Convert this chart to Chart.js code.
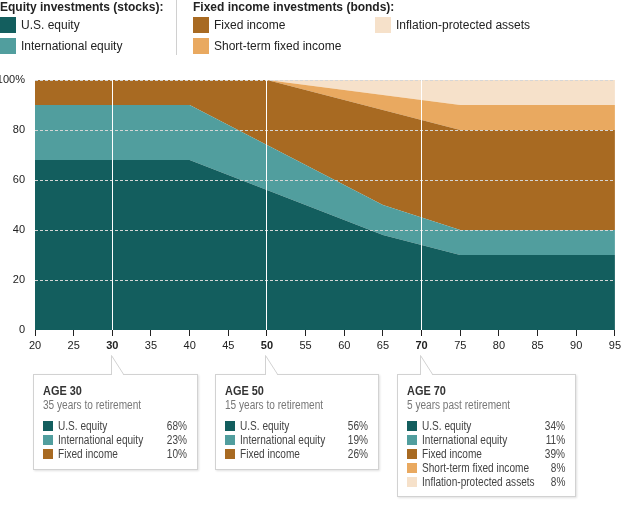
<!DOCTYPE html>
<html>
<head>
<meta charset="utf-8">
<script src="https://cdn.jsdelivr.net/npm/chart.js@4.4.1/dist/chart.umd.min.js"></script>
<style>
  html, body { margin: 0; padding: 0; background: #fff; }
  body { width: 624px; height: 505px; position: relative; overflow: hidden;
         font-family: "Liberation Sans", Arial, Helvetica, sans-serif; color: #222; }
  #chart { position: absolute; left: 0; top: 0; }
  .lg-title { position: absolute; top: 0; font-size: 12px; font-weight: bold; line-height: 14px; white-space: nowrap; }
  .lg-item { position: absolute; font-size: 12px; line-height: 16px; white-space: nowrap; }
  .lg-item i { position: absolute; left: 0; top: 0; width: 16px; height: 16px; }
  .lg-item span { position: absolute; left: 21px; top: 0; }
  .sep { position: absolute; left: 176px; top: 0; width: 1px; height: 55px; background: #d0d0d0; }
  .box { position: absolute; top: 374px; background: #fff; border: 1px solid #d2d2d2;
         box-shadow: 1px 1px 2px rgba(0,0,0,0.12); box-sizing: border-box; }
  .box svg { position: absolute; top: -20px; }
  .box .cz { display: inline-block; position: absolute; transform: scaleX(0.84); transform-origin: 0 0; white-space: nowrap; }
  .box h4 { left: 9px; top: 9px; margin: 0; font-size: 13px; line-height: 14px; font-weight: bold; color: #333; }
  .box .sub { left: 9px; top: 23px; font-size: 12px; line-height: 14px; color: #777; }
  .box .row { position: absolute; left: 9px; right: 10px; height: 14px; font-size: 12px; line-height: 14px; color: #444; white-space: nowrap; }
  .box .row i { position: absolute; left: 0; top: 2px; width: 10px; height: 10px; }
  .box .row .lab { left: 15px; top: 0; }
  .box .row .pct { right: 0; top: 0; transform-origin: 100% 0; }
</style>
</head>
<body>
<canvas id="chart" width="624" height="505"></canvas>

<div class="lg-title" style="left:0">Equity investments (stocks):</div>
<div class="lg-title" style="left:193px">Fixed income investments (bonds):</div>
<div class="sep"></div>
<div id="legend"></div>
<div id="boxes"></div>

<script>
// Age along the x axis
const ages = [20, 25, 30, 35, 40, 45, 50, 55, 60, 65, 70, 75, 80, 85, 90, 95];

// Allocation (%) at each age, stacked bottom to top
const usEquity        = [68, 68, 68, 68, 68, 62, 56, 50, 44, 38, 34, 30, 30, 30, 30, 30];
const intlEquity      = [22, 22, 22, 22, 22, 20, 18, 16, 14, 12, 11, 10, 10, 10, 10, 10];
const fixedIncome     = [10, 10, 10, 10, 10, 18, 26, 30, 34, 38, 39, 40, 40, 40, 40, 40];
const shortTermFixed  = [ 0,  0,  0,  0,  0,  0,  0,  2,  4,  6,  8, 10, 10, 10, 10, 10];
const inflationProt   = [ 0,  0,  0,  0,  0,  0,  0,  2,  4,  6,  8, 10, 10, 10, 10, 10];

const seriesNames  = ['U.S. equity', 'International equity', 'Fixed income', 'Short-term fixed income', 'Inflation-protected assets'];
const seriesColors = ['#135e5e', '#519e9e', '#a86a22', '#e9a960', '#f6e1ca'];
const seriesData   = [usEquity, intlEquity, fixedIncome, shortTermFixed, inflationProt];

const yTicks = [0, 20, 40, 60, 80, 100];

// Callouts shown under the axis
const calloutAges  = [30, 50, 70];
const calloutTitle = ['AGE 30', 'AGE 50', 'AGE 70'];
const calloutSub   = ['35 years to retirement', '15 years to retirement', '5 years past retirement'];
const calloutPct   = [
    [68, 23, 10],
    [56, 19, 26],
    [34, 11, 39, 8, 8]
];
const calloutBox = [
    { left: 33, width: 165, height: 96 },
    { left: 215, width: 164, height: 96 },
    { left: 397, width: 179, height: 123 }
];

// Top legend (HTML)
const legendSpots = [[0, 17], [0, 38], [193, 17], [193, 38], [375, 17]];
let legendHtml = '';
seriesNames.forEach(function(name, i) {
    legendHtml += '<div class="lg-item" style="left:' + legendSpots[i][0] + 'px;top:' + legendSpots[i][1] + 'px">' +
        '<i style="background:' + seriesColors[i] + '"></i><span>' + name + '</span></div>';
});
document.getElementById('legend').innerHTML = legendHtml;

// Chart datasets
const datasets = seriesData.map(function(values, i) {
    return {
        label: seriesNames[i],
        data: values,
        backgroundColor: seriesColors[i],
        borderColor: seriesColors[i],
        borderWidth: 0,
        pointRadius: 0,
        tension: 0,
        fill: i === 0 ? 'origin' : '-1'
    };
});

function isCallout(index) {
    return calloutAges.indexOf(ages[index]) !== -1;
}

// Build callout boxes once the scales are known
const calloutPlugin = {
    id: 'callouts',
    afterRender(chart) {
        if (chart.$calloutsDone) return;
        chart.$calloutsDone = true;
        const xScale = chart.scales.x;
        let html = '';
        calloutAges.forEach(function(age, b) {
            const box = calloutBox[b];
            const px = xScale.getPixelForValue(ages.indexOf(age)) - 1;
            const ax = px - box.left - 1;
            let rows = '';
            calloutPct[b].forEach(function(p, r) {
                rows += '<div class="row" style="top:' + (44 + r * 14) + 'px">' +
                    '<i style="background:' + seriesColors[r] + '"></i>' +
                    '<span class="cz lab">' + seriesNames[r] + '</span>' +
                    '<span class="cz pct">' + p + '%</span></div>';
            });
            html += '<div class="box" style="left:' + box.left + 'px;width:' + box.width + 'px;height:' + box.height + 'px">' +
                '<svg width="16" height="21" style="left:' + (ax - 0.5) + 'px">' +
                '<polygon points="0.5,21 0.5,0.5 13,21" fill="#fff"/>' +
                '<polyline points="0.5,20 0.5,0.5 13,20" fill="none" stroke="#d2d2d2" stroke-width="1"/></svg>' +
                '<h4 class="cz">' + calloutTitle[b] + '</h4>' +
                '<div class="cz sub">' + calloutSub[b] + '</div>' + rows + '</div>';
        });
        document.getElementById('boxes').innerHTML = html;
    }
};

const tickFont = { family: '"Liberation Sans", Arial, sans-serif', size: 11 };

new Chart(document.getElementById('chart').getContext('2d'), {
    type: 'line',
    data: {
        labels: ages,
        datasets: datasets
    },
    options: {
        responsive: false,
        animation: false,
        events: [],
        layout: { padding: { top: 80, right: 8, bottom: 145, left: 0 } },
        plugins: {
            legend: { display: false },
            tooltip: { enabled: false }
        },
        scales: {
            x: {
                type: 'category',
                offset: false,
                border: { display: false },
                grid: {
                    z: 2,
                    color: function(ctx) { return isCallout(ctx.index) ? '#ffffff' : 'rgba(0,0,0,0)'; },
                    lineWidth: 1,
                    tickColor: '#222',
                    tickLength: 6,
                    drawOnChartArea: true
                },
                ticks: {
                    color: '#222',
                    padding: 3,
                    maxRotation: 0,
                    autoSkip: false,
                    font: function(ctx) {
                        return Object.assign({}, tickFont, { weight: isCallout(ctx.index) ? 'bold' : 'normal' });
                    }
                },
                afterFit: function(scale) { scale.height = 30; }
            },
            y: {
                stacked: true,
                min: 0,
                max: 100,
                border: { display: false, dash: [3, 2] },
                grid: {
                    z: 1,
                    drawTicks: false,
                    color: function(ctx) { return ctx.tick && ctx.tick.value === 0 ? 'rgba(0,0,0,0)' : '#d6d6d6'; },
                    lineWidth: 1
                },
                afterBuildTicks: function(scale) {
                    scale.ticks = yTicks.map(function(v) { return { value: v }; });
                },
                ticks: {
                    color: '#222',
                    padding: 10,
                    font: tickFont,
                    callback: function(v) { return v === 100 ? '100%' : v; }
                },
                afterFit: function(scale) { scale.width = 35; }
            }
        }
    },
    plugins: [calloutPlugin]
});
</script>
</body>
</html>
